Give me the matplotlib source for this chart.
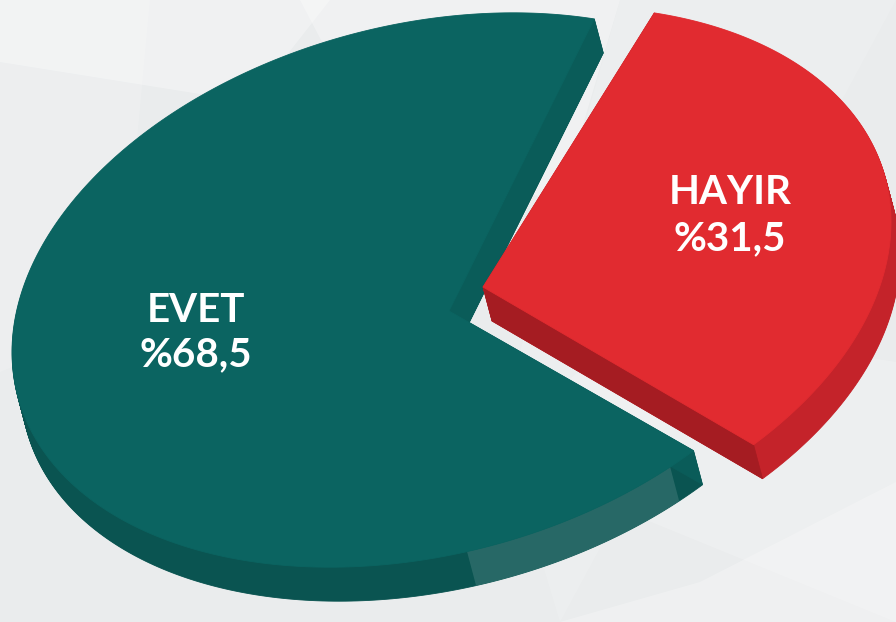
import numpy as np
import matplotlib
matplotlib.use("Agg")
import matplotlib.pyplot as plt
from matplotlib.patches import Polygon
from matplotlib.transforms import Affine2D

# ---- data ----
categories = ["EVET", "HAYIR"]
shares = [68.5, 31.5]
share_labels = ["%68,5", "%31,5"]

# ---- style ----
top_colors = {"EVET": "#0b6461", "HAYIR": "#e12b30"}
side_colors = {"EVET": "#0a5451", "HAYIR": "#c4232a"}
cut_colors = {"EVET": "#0a5c59", "HAYIR": "#a51c22"}

W, H = 896, 622
fig = plt.figure(figsize=(W / 100, H / 100), dpi=100)
ax = fig.add_axes([0, 0, 1, 1])
ax.set_xlim(0, W)
ax.set_ylim(0, H)
ax.axis("off")
fig.patch.set_facecolor("#eaeced")

# soft background facets
bg_shapes = [
    ([(0, 622), (330, 622), (250, 520), (0, 560)], 0.30),
    ([(300, 622), (620, 622), (560, 420), (380, 470)], 0.30),
    ([(560, 0), (896, 0), (896, 140), (700, 40)], 0.25),
    ([(480, 170), (896, 0), (896, 260), (640, 300)], 0.18),
    ([(560, 0), (896, 622), (620, 622), (500, 200)], 0.12),
    ([(0, 622), (150, 622), (120, 300), (0, 250)], 0.15),
]
for pts, a in bg_shapes:
    ax.add_patch(Polygon(pts, closed=True, facecolor="white", edgecolor="none", alpha=a, zorder=0))

# ---- 3D pie geometry ----
ELL = Affine2D().scale(417.5, 265).rotate_deg(14.6).translate(421.5, 332)
hub = {"EVET": (449, 311), "HAYIR": (483, 335)}
rim_shift = {"EVET": (0, 0), "HAYIR": (60, 6)}
DEPTH = np.array([9.0, -34.0])
START = -57.75

total = float(sum(shares))
span = {c: 360.0 * v / total for c, v in zip(categories, shares)}
theta = {}
a0 = START
for c in ["HAYIR", "EVET"]:
    theta[c] = (a0, a0 + span[c])
    a0 += span[c]


def arc(t1, t2, shift, n=300):
    t = np.radians(np.linspace(t1, t2, n))
    pts = ELL.transform(np.column_stack([np.cos(t), np.sin(t)]))
    return pts + np.asarray(shift, dtype=float)


def top_poly(c):
    t1, t2 = theta[c]
    return np.vstack([np.asarray(hub[c], dtype=float), arc(t1, t2, rim_shift[c])])


z = 1
for c in categories:
    top = top_poly(c)
    # extruded body
    steps = 40
    for k in range(steps, 0, -1):
        ax.add_patch(Polygon(top + DEPTH * k / steps, closed=True,
                             facecolor=side_colors[c], edgecolor=side_colors[c],
                             lw=0.6, zorder=z))
    z += 1
    # cut faces
    for t in theta[c]:
        corner = arc(t, t, rim_shift[c], n=1)[0]
        h = np.asarray(hub[c], dtype=float)
        ax.add_patch(Polygon([h, corner, corner + DEPTH, h + DEPTH], closed=True,
                             facecolor=cut_colors[c], edgecolor=cut_colors[c],
                             lw=0.5, zorder=z))
    z += 1
    if c == "EVET":
        band_top = arc(-93, -62, rim_shift[c], n=80)
        band = np.vstack([band_top, (band_top + DEPTH)[::-1]])
        ax.add_patch(Polygon(band, closed=True, facecolor="white", edgecolor="none",
                             alpha=0.12, zorder=z))
        z += 1
    ax.add_patch(Polygon(top, closed=True, facecolor=top_colors[c],
                         edgecolor=top_colors[c], lw=0.6, zorder=z))
    z += 1

# ---- labels ----
label_pos = {"EVET": (196, 312, 267), "HAYIR": (730, 430, 383)}
font = dict(color="white", fontsize=29, fontweight="bold", family=["Lato", "DejaVu Sans"],
            ha="center", va="center", zorder=50)
for c, s in zip(categories, share_labels):
    x, y1, y2 = label_pos[c]
    ax.text(x, y1, c, **font)
    ax.text(x, y2, s, **font)

fig.savefig("out.png", dpi=100, facecolor=fig.get_facecolor())
